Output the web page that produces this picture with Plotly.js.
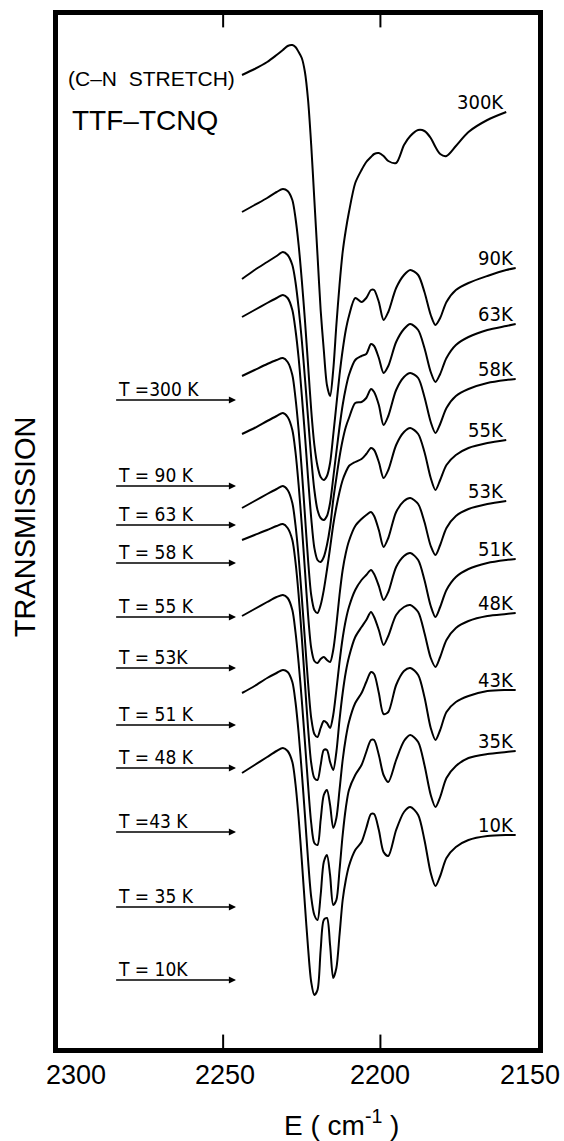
<!DOCTYPE html>
<html>
<head>
<meta charset="utf-8">
<script src="https://cdn.plot.ly/plotly-3.0.1.min.js"></script>
<style>
  html, body { margin: 0; padding: 0; background: #ffffff; }
  #chart { width: 564px; height: 1141px; }
</style>
</head>
<body>
<div id="chart"></div>
<script>
// Wavenumber grid (cm^-1), shared by all spectra
const wavenumber = [2244, 2240, 2236, 2233, 2231, 2229.5, 2228, 2227, 2226, 2225, 2224, 2223, 2222, 2221, 2220, 2219, 2218, 2217, 2216, 2215, 2214, 2213, 2212, 2211, 2210, 2208, 2206, 2204.5, 2203, 2202, 2200.5, 2199, 2197.5, 2195, 2192.5, 2190.5, 2188, 2186, 2184, 2182.5, 2181, 2179, 2176, 2172, 2166, 2160, 2157];

// Transmission (arbitrary units, spectra offset vertically)
const t300K = [973,979,986,993,998,1002,1003,1001,996,990,976,948,903,848,793,738,698,663,652,678,723,763,796,818,836,865,878,886,891,894,895,892,887,885,903,912,918,917,910,901,894,892,902,916,928,936,null];
const t90K  = [836,843,850,856,859,857,848,830,803,768,728,683,638,603,582,571,568,572,585,613,643,673,698,718,732,750,746,750,758,758,746,728,736,760,773,778,773,756,733,723,730,746,758,765,772,778,780];
const t63K  = [769,778,786,792,796,793,783,766,740,708,670,630,590,558,538,530,528,532,545,570,596,621,643,660,673,688,692,694,704,702,690,675,682,706,719,724,718,700,676,666,674,690,703,711,718,722,724];
const t58K  = [731,738,745,750,753,750,738,718,690,653,613,570,530,500,488,486,491,503,521,548,570,591,608,621,630,645,646,650,659,656,643,623,632,658,671,675,670,651,626,615,624,640,652,659,665,668,669];
const t55K  = [672,678,684,688,690,686,673,650,618,578,533,488,453,438,435,443,458,478,500,523,541,556,568,576,582,586,589,594,600,598,586,570,578,603,616,620,614,596,570,558,568,583,593,600,605,608,null];
const t53K  = [614,620,627,632,635,631,618,596,563,523,478,433,400,387,385,389,391,388,386,398,423,453,478,495,507,522,529,533,536,532,518,501,510,536,547,550,544,526,502,493,503,520,532,539,544,547,null];
const t51K  = [540,547,554,559,562,558,545,523,491,451,408,365,330,314,311,320,327,325,320,333,358,386,410,428,441,458,468,473,478,474,462,448,456,481,492,495,488,468,442,431,441,458,471,479,485,488,489];
const t48K  = [508,513,518,522,524,520,508,486,453,411,365,320,285,270,268,283,298,298,286,278,296,328,355,376,391,411,421,428,436,431,418,403,412,433,441,443,436,415,390,381,391,408,420,427,432,434,435];
const t43K  = [432,439,446,451,453,450,438,416,385,348,306,263,225,205,203,228,253,258,243,220,230,258,288,310,326,345,355,366,376,374,355,334,336,363,377,380,373,351,320,308,318,336,346,352,357,358,358];
const t35K  = [355,362,370,375,378,376,366,346,315,276,233,188,151,133,128,153,186,193,173,143,148,178,213,240,258,273,283,296,308,308,293,273,266,288,307,313,306,283,253,241,251,270,282,290,294,296,297];
const t10K  = [275,283,291,297,300,297,286,264,230,188,143,100,66,53,58,98,128,130,103,70,80,113,148,168,182,198,206,220,234,234,218,196,192,218,236,241,233,208,175,162,172,190,201,208,212,213,213];

// Curve labels (right) and temperature reference labels (left)
const curveLabels = ['300K', '90K', '63K', '58K', '55K', '53K', '51K', '48K', '43K', '35K', '10K'];
const refLabels = ['T =300 K', 'T = 90 K', 'T = 63 K', 'T = 58 K', 'T = 55 K', 'T = 53K', 'T = 51 K', 'T = 48 K', 'T =43 K', 'T = 35 K', 'T = 10K'];
// Zero-transmission reference level of each spectrum (same arbitrary units)
const zeroLevels = [648, 562, 523, 485, 431, 380, 323, 280, 216, 141, 68];

// Axis ticks
const tickValues = [2300, 2250, 2200, 2150];
const tickText = ['2300', '2250', '2200', '2150'];
const tickLabelNudge = [10, 2, 0, -8];   // px nudges of the hand-lettered labels
const innerTicks = [2250, 2200];

const series = [t300K, t90K, t63K, t58K, t55K, t53K, t51K, t48K, t43K, t35K, t10K];

const NARROW = '"Liberation Sans Narrow", "DejaVu Sans Condensed", "Liberation Sans", Arial, sans-serif';
const SANS = '"Liberation Sans", Arial, sans-serif';

const traces = series.map((s, i) => ({
  type: 'scatter',
  mode: 'lines',
  x: wavenumber,
  y: s,
  name: curveLabels[i],
  line: { color: '#000', width: 2, shape: 'spline', smoothing: 0.8 },
  connectgaps: false,
  hoverinfo: 'skip',
  showlegend: false
}));

const annotations = [];

// right-hand curve labels at end of each spectrum
series.forEach((s, i) => {
  let k = s.length - 1;
  while (s[k] === null) k--;
  annotations.push({
    x: wavenumber[k], y: s[k], xref: 'x', yref: 'y',
    text: curveLabels[i], showarrow: false,
    xanchor: 'right', yanchor: 'bottom', yshift: -4,
    font: { family: NARROW, size: 20, color: '#000' }
  });
});

// left reference arrows and labels
const arrowTail = 2284.5, arrowHead = 2245.9;
zeroLevels.forEach((z, i) => {
  annotations.push({
    x: arrowHead, y: z, xref: 'x', yref: 'y',
    ax: arrowTail, ay: z, axref: 'x', ayref: 'y',
    text: '', showarrow: true, arrowhead: 2, arrowsize: 1.1, arrowwidth: 1.3,
    arrowcolor: '#000'
  });
  annotations.push({
    x: arrowTail, y: z, xref: 'x', yref: 'y',
    text: refLabels[i], showarrow: false,
    xanchor: 'left', yanchor: 'bottom', xshift: 1, yshift: -2,
    font: { family: NARROW, size: 19, color: '#000' }
  });
});

// x tick labels, placed on the x scale
tickValues.forEach((v, i) => {
  annotations.push({
    x: v, xref: 'x', y: -0.0095, yref: 'paper',
    text: tickText[i], showarrow: false,
    xanchor: 'center', yanchor: 'top', xshift: tickLabelNudge[i],
    font: { family: SANS, size: 27, color: '#000' }
  });
});

// titles
annotations.push({
  xref: 'paper', yref: 'paper', x: 0.016, y: 0.939,
  text: '(C–N  STRETCH)', showarrow: false, xanchor: 'left', yanchor: 'middle',
  font: { family: SANS, size: 21, color: '#000' }
});
annotations.push({
  xref: 'paper', yref: 'paper', x: 0.026, y: 0.898,
  text: 'TTF–TCNQ', showarrow: false, xanchor: 'left', yanchor: 'middle',
  font: { family: SANS, size: 28, color: '#000' }
});
annotations.push({
  xref: 'paper', yref: 'paper', x: -0.069, y: 0.505,
  text: 'TRANSMISSION', showarrow: false, textangle: -90,
  xanchor: 'center', yanchor: 'middle',
  font: { family: SANS, size: 29, color: '#000' }
});
annotations.push({
  xref: 'paper', yref: 'paper', x: 0.59, y: -0.073,
  text: 'E ( cm<sup>-1</sup> )', showarrow: false,
  xanchor: 'center', yanchor: 'middle',
  font: { family: SANS, size: 28, color: '#000' }
});

// inner tick marks on top and bottom frame
const shapes = [];
innerTicks.forEach(v => {
  shapes.push({ type: 'line', xref: 'x', yref: 'paper', x0: v, x1: v, y0: 0, y1: 0.013, line: { color: '#000', width: 2 } });
  shapes.push({ type: 'line', xref: 'x', yref: 'paper', x0: v, x1: v, y0: 1, y1: 0.988, line: { color: '#000', width: 2 } });
});

const layout = {
  width: 564, height: 1141,
  margin: { l: 58, r: 26, t: 15, b: 93, pad: 0 },
  paper_bgcolor: '#fff', plot_bgcolor: '#fff',
  showlegend: false,
  xaxis: {
    range: [2302.5, 2149.9],
    showline: true, linewidth: 5, linecolor: '#000', mirror: true,
    showgrid: false, zeroline: false,
    showticklabels: false, ticks: ''
  },
  yaxis: {
    range: [0, 1033],
    showline: true, linewidth: 5, linecolor: '#000', mirror: true,
    showgrid: false, zeroline: false, showticklabels: false, ticks: ''
  },
  annotations: annotations,
  shapes: shapes
};

Plotly.newPlot('chart', traces, layout, { staticPlot: true, displayModeBar: false });
</script>
</body>
</html>
